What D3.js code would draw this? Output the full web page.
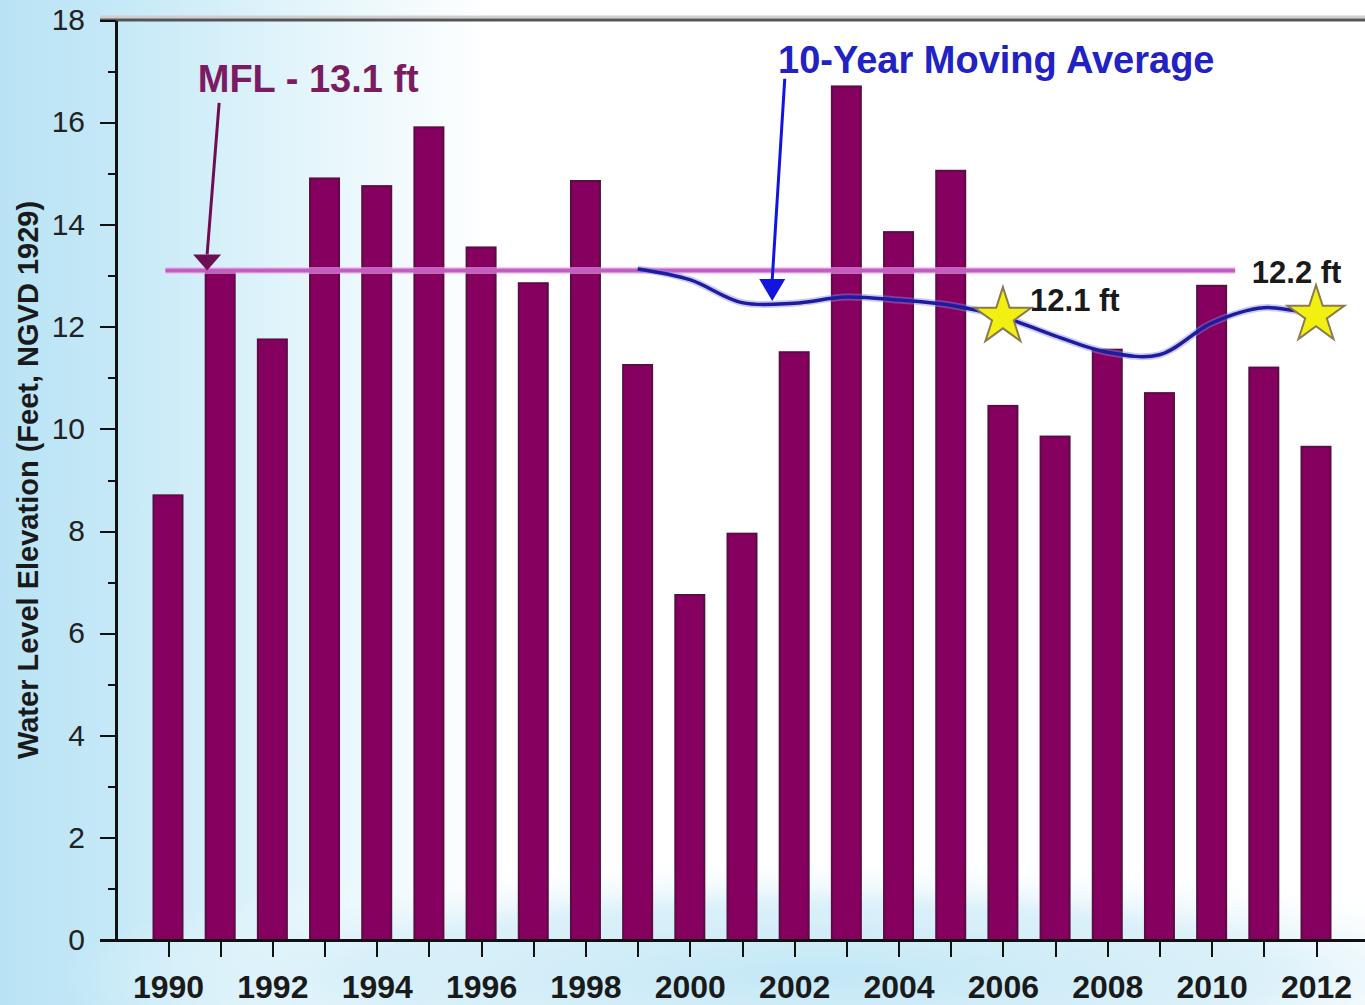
<!DOCTYPE html>
<html lang="en">
<head>
<meta charset="UTF-8">
<title>Water Level Elevation</title>
<style>
  body { margin: 0; background: #fff; }
  svg { display: block; font-family: "Liberation Sans", Arial, sans-serif; }
  .axis path, .axis line { fill: none; stroke: #111; shape-rendering: crispEdges; }
</style>
</head>
<body>
<script src="https://d3js.org/d3.v7.min.js"></script>
<script>
var width = 1365;
var height = 1005;

// data
var years = [1990, 1991, 1992, 1993, 1994, 1995, 1996, 1997, 1998, 1999, 2000, 2001,
             2002, 2003, 2004, 2005, 2006, 2007, 2008, 2009, 2010, 2011, 2012];
var levels = [8.7, 13.05, 11.75, 14.9, 14.75, 15.9, 13.55, 12.85, 14.85, 11.25, 6.75, 7.95,
              11.5, 16.7, 13.85, 15.05, 10.45, 9.85, 11.55, 10.7, 12.8, 11.2, 9.65];
var avgYears = [1999, 2000, 2001, 2002, 2003, 2004, 2005, 2006, 2007, 2008, 2009, 2010, 2011, 2012];
var avgValues = [13.13, 12.92, 12.47, 12.46, 12.58, 12.52, 12.42, 12.19, 11.82, 11.5, 11.45, 12.07, 12.37, 12.23];
var starYears = [2006, 2012];
var starValues = [12.19, 12.23];
var starLabels = ["12.1 ft", "12.2 ft"];
var mfl = 13.1;
var yTicks = d3.range(0, 19, 1);
var yLabels = [0, 2, 4, 6, 8, 10, 12, 14, 16, 18];

var svg = d3.select('body').append('svg')
  .attr('width', width).attr('height', height);

// background
var defs = svg.append('defs');
var lg = defs.append('linearGradient').attr('id', 'bgL').attr('x1', 0).attr('x2', 1).attr('y1', 0).attr('y2', 0);
lg.append('stop').attr('offset', 0).attr('stop-color', '#b9e3f5');
lg.append('stop').attr('offset', 0.09).attr('stop-color', '#c6e9f7');
lg.append('stop').attr('offset', 0.22).attr('stop-color', '#e3f5fb');
lg.append('stop').attr('offset', 0.36).attr('stop-color', '#ffffff');
lg.append('stop').attr('offset', 1).attr('stop-color', '#ffffff');
var rg = defs.append('radialGradient').attr('id', 'bgB').attr('cx', 0.5).attr('cy', 0.5).attr('r', 0.5);
rg.append('stop').attr('offset', 0).attr('stop-color', '#bfe6f6').attr('stop-opacity', 0.95);
rg.append('stop').attr('offset', 0.6).attr('stop-color', '#cdebf7').attr('stop-opacity', 0.7);
rg.append('stop').attr('offset', 1).attr('stop-color', '#ffffff').attr('stop-opacity', 0);
svg.append('rect').attr('width', width).attr('height', height).attr('fill', 'url(#bgL)');
svg.append('ellipse').attr('cx', 820).attr('cy', 975).attr('rx', 760).attr('ry', 120).attr('fill', 'url(#bgB)');

var x = d3.scaleLinear().domain([1990, 2012]).range([168, 1316]);
var y = d3.scaleLinear().domain([0, 18]).range([940, 20]);
var barW = 29;

// top frame line
svg.append('line').attr('x1', 100).attr('x2', width).attr('y1', y(18) - 3).attr('y2', y(18) - 3)
  .attr('stroke', '#cfcfcf').attr('stroke-width', 3);
svg.append('line').attr('x1', 100).attr('x2', width).attr('y1', y(18)).attr('y2', y(18))
  .attr('stroke', '#555').attr('stroke-width', 3);

// bars
svg.selectAll('rect.bar').data(years).enter().append('rect')
  .attr('class', 'bar')
  .attr('x', function(d) { return x(d) - barW / 2; })
  .attr('y', function(d, i) { return y(levels[i]); })
  .attr('width', barW)
  .attr('height', function(d, i) { return y(0) - y(levels[i]); })
  .attr('fill', '#85005f')
  .attr('stroke', '#5a0c44').attr('stroke-width', 2);

// MFL line
svg.append('line')
  .attr('x1', x(1989.95)).attr('x2', x(2010.45))
  .attr('y1', y(mfl)).attr('y2', y(mfl))
  .attr('stroke', '#f0b0f0').attr('stroke-width', 7).attr('opacity', 0.6);
svg.append('line')
  .attr('x1', x(1989.95)).attr('x2', x(2010.45))
  .attr('y1', y(mfl)).attr('y2', y(mfl))
  .attr('stroke', '#c45cc4').attr('stroke-width', 4);

// moving average
var line = d3.line()
  .x(function(d, i) { return x(avgYears[i]); })
  .y(function(d) { return y(d); })
  .curve(d3.curveCatmullRom.alpha(0.5));
svg.append('path').datum(avgValues).attr('d', line)
  .attr('fill', 'none').attr('stroke', '#8a8af0').attr('stroke-width', 7).attr('opacity', 0.45);
svg.append('path').datum(avgValues).attr('d', line)
  .attr('fill', 'none').attr('stroke', '#1c1c9c').attr('stroke-width', 3.5);

// stars
var star = d3.symbol().type(d3.symbolStar).size(1000);
svg.selectAll('path.star').data(starYears).enter().append('path')
  .attr('class', 'star')
  .attr('d', star)
  .attr('transform', function(d, i) { return 'translate(' + x(d) + ',' + y(starValues[i]) + ')'; })
  .attr('fill', '#f2f010').attr('stroke', '#8a7a50').attr('stroke-width', 2);
svg.selectAll('text.star').data(starLabels).enter().append('text')
  .attr('class', 'star')
  .attr('x', function(d, i) { return i === 0 ? x(2006.52) : x(2010.77); })
  .attr('y', function(d, i) { return i === 0 ? y(12.3) : y(12.86); })
  .attr('font-size', 31).attr('font-weight', 'bold').attr('fill', '#1a1a1a')
  .text(function(d) { return d; });

// annotation arrows
function arrow(x0, y0, x1, y1, color, hw, hh) {
  svg.append('line').attr('x1', x0).attr('y1', y0).attr('x2', x1).attr('y2', y1 - hh)
    .attr('stroke', color).attr('stroke-width', 3);
  svg.append('path')
    .attr('d', 'M' + (x1 - hw / 2) + ',' + (y1 - hh) + 'L' + (x1 + hw / 2) + ',' + (y1 - hh) + 'L' + x1 + ',' + y1 + 'Z')
    .attr('fill', color);
}
arrow(x(1990.98), y(16.38), x(1990.75), y(mfl), '#6e0e52', 28, 16);
arrow(x(2001.82), y(16.85), x(2001.58), y(12.5), '#1414e0', 26, 22);

svg.append('text').attr('x', x(1990.57)).attr('y', y(16.6))
  .attr('font-size', 38).attr('font-weight', 'bold').attr('fill', '#7a1c62')
  .text('MFL - 13.1 ft');
svg.append('text').attr('x', x(2001.69)).attr('y', y(16.97))
  .attr('font-size', 38).attr('font-weight', 'bold').attr('fill', '#2222c4')
  .text('10-Year Moving Average');

// y axis
var yAxis = d3.axisLeft(y).tickValues(yTicks)
  .tickSize(0).tickFormat(function(d) { return yLabels.indexOf(d) >= 0 ? d : ''; });
var gy = svg.append('g').attr('class', 'axis').attr('transform', 'translate(116,0)').call(yAxis);
gy.select('.domain').attr('stroke-width', 3);
gy.selectAll('.tick line').attr('stroke-width', 2)
  .attr('x2', function(d) { return d % 2 === 0 ? -16 : -8; });
gy.selectAll('.tick text').attr('x', -31).attr('font-size', 30).attr('fill', '#222')
  .attr('font-family', '"Liberation Sans", Arial, sans-serif');

// x axis
var xAxis = d3.axisBottom(x).tickValues(years).tickSize(17).tickSizeOuter(0)
  .tickFormat(function(d) { return d % 2 === 0 ? d : ''; });
var gx = svg.append('g').attr('class', 'axis').attr('transform', 'translate(0,940)').call(xAxis);
gx.select('.domain').attr('d', 'M100,0H' + width).attr('stroke-width', 3);
gx.selectAll('.tick line').attr('stroke-width', 2).attr('stroke', '#333');
gx.selectAll('.tick text').attr('y', 35).attr('dy', '0.71em').attr('font-size', 32)
  .attr('font-weight', 'bold').attr('fill', '#1a1a1a')
  .attr('font-family', '"Liberation Sans", Arial, sans-serif');

// y title
svg.append('text')
  .attr('transform', 'translate(38,480) rotate(-90)')
  .attr('text-anchor', 'middle')
  .attr('font-size', 29).attr('font-weight', 'bold').attr('fill', '#1a1a1a')
  .text('Water Level Elevation (Feet, NGVD 1929)');
</script>
</body>
</html>
